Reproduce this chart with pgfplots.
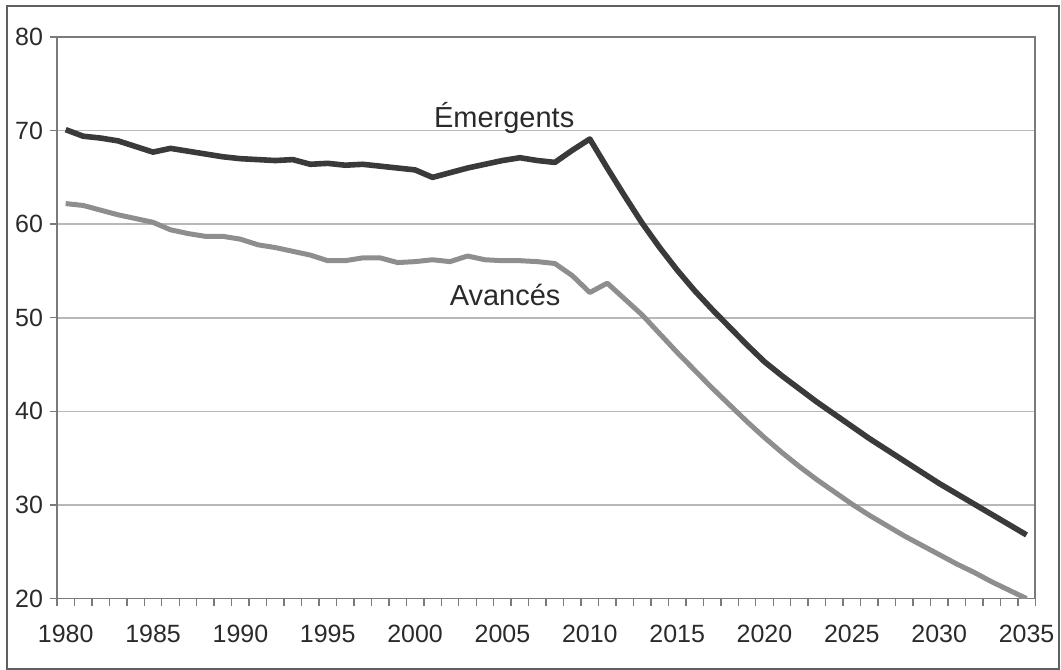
\documentclass[border=0pt]{standalone}
\usepackage{fontspec}
\setmainfont{Liberation Sans}
\usepackage{pgfplots}
\usepackage{pgfplotstable}
\pgfplotsset{compat=1.18}

\definecolor{emerg}{HTML}{3A3A3A}
\definecolor{avanc}{HTML}{8E8E8E}
\definecolor{axisgray}{HTML}{7A7A7A}
\definecolor{gridgray}{HTML}{B8B8B8}
\definecolor{txt}{HTML}{2A2A2A}

\pgfplotstableread{
year emerg avanc
1980 70.1 62.2
1981 69.4 62.0
1982 69.2 61.5
1983 68.9 61.0
1984 68.3 60.6
1985 67.7 60.2
1986 68.1 59.4
1987 67.8 59.0
1988 67.5 58.7
1989 67.2 58.7
1990 67.0 58.4
1991 66.9 57.8
1992 66.8 57.5
1993 66.9 57.1
1994 66.4 56.7
1995 66.5 56.1
1996 66.3 56.1
1997 66.4 56.4
1998 66.2 56.4
1999 66.0 55.9
2000 65.8 56.0
2001 65.0 56.2
2002 65.5 56.0
2003 66.0 56.6
2004 66.4 56.2
2005 66.8 56.1
2006 67.1 56.1
2007 66.8 56.0
2008 66.6 55.8
2009 67.9 54.5
2010 69.1 52.7
2011 66.0 53.7
2012 63.0 52.0
2013 60.1 50.3
2014 57.5 48.3
2015 55.1 46.3
2016 52.9 44.4
2017 50.9 42.5
2018 49.0 40.7
2019 47.1 38.9
2020 45.3 37.2
2021 43.8 35.6
2022 42.4 34.1
2023 41.0 32.7
2024 39.7 31.4
2025 38.4 30.1
2026 37.1 28.9
2027 35.9 27.8
2028 34.7 26.7
2029 33.5 25.7
2030 32.3 24.7
2031 31.2 23.7
2032 30.1 22.8
2033 29.0 21.8
2034 27.9 20.9
2035 26.8 20.0
}\data

\begin{document}
\begin{tikzpicture}
\path (0pt,0pt) rectangle (530.5pt,335pt);
\draw[gray!75!black, line width=1pt] (3.5pt,0.5pt) rectangle (530pt,332pt);
\begin{axis}[
  at={(28.5pt,35.5pt)}, anchor=south west,
  scale only axis, width=489.5pt, height=281pt,
  xmin=1979.5, xmax=2035.5, ymin=20, ymax=80,
  xtick={1980,1985,...,2035},
  minor xtick={1979.5,1980.5,...,2035.5},
  ytick={20,30,...,80},
  tick align=outside, tick pos=left,
  major tick length=3.5pt, minor tick length=3.5pt,
  axis line style={axisgray, line width=0.8pt},
  tick style={axisgray, line width=0.7pt},
  major x tick style={draw=none},
  ymajorgrids, grid style={gridgray, line width=0.8pt},
  /pgf/number format/1000 sep={},
  /pgf/number format/assume math mode=true,
  tick label style={font=\fontsize{12.5}{15}\selectfont, text=txt},
  x tick label style={yshift=-6pt},
]
\addplot[avanc, line width=2.5pt, line join=round] table[x=year, y=avanc] {\data};
\addplot[emerg, line width=2.8pt, line join=round] table[x=year, y=emerg] {\data};
\node[anchor=base, font=\fontsize{14.5}{17}\selectfont, text=txt] at (axis cs:2005.1,70.3) {Émergents};
\node[anchor=base, font=\fontsize{14.5}{17}\selectfont, text=txt] at (axis cs:2005.15,51.3) {Avancés};
\end{axis}
\end{tikzpicture}
\end{document}
